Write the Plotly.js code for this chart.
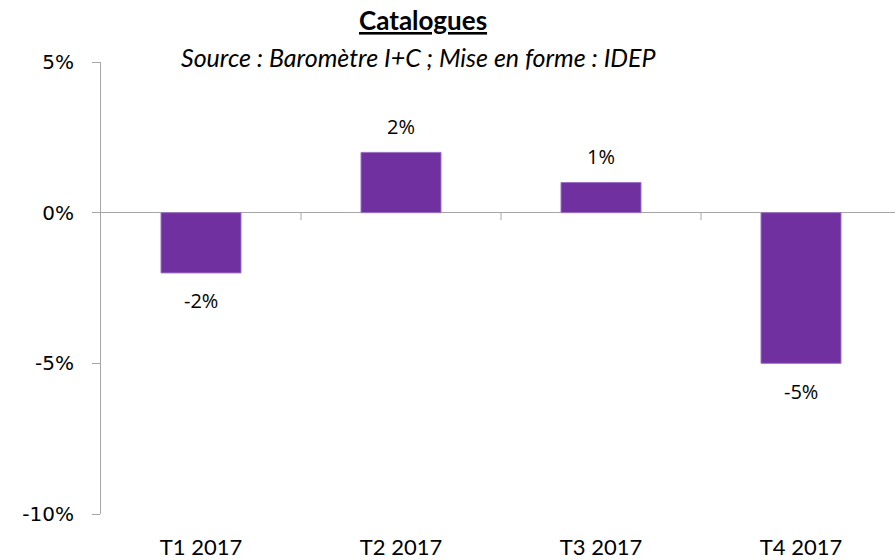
<!DOCTYPE html>
<html>
<head>
<meta charset="utf-8">
<script src="https://cdn.plot.ly/plotly-3.0.1.min.js"></script>
<style>html,body{margin:0;padding:0;background:#fff}#chart{width:895px;height:560px}</style>
</head>
<body>
<div id="chart"></div>
<script>
const categories = ["T1 2017", "T2 2017", "T3 2017", "T4 2017"];
const values = [-2, 2, 1, -5];
const yTickValues = [-10, -5, 0, 5];
const chartTitle = "Catalogues";
const chartSubtitle = "Source : Baromètre I+C ; Mise en forme : IDEP";

const barColor = "#7030A0";
const axisGray = "#A6A6A6";

const trace = {
  type: "bar",
  x: categories,
  y: values,
  width: 0.4,
  marker: { color: barColor, line: { color: "#9A72C4", width: 1 } },
  hoverinfo: "x+y"
};

const labelAnnotations = values.map((v, i) => ({
  x: categories[i], y: v, xref: "x", yref: "y",
  text: v + "%", showarrow: false,
  yanchor: "middle", yshift: v >= 0 ? 26 : -28,
  font: { family: "Open Sans", size: 20, color: "#000" }
}));

const boundaryTicks = categories.slice(0, -1).map((c, i) => ({
  type: "line", xref: "x", yref: "y",
  x0: i + 0.5, x1: i + 0.5, y0: 0, y1: -0.25,
  line: { color: axisGray, width: 1 }
}));

const layout = {
  width: 895, height: 560,
  margin: { l: 101, r: 0, t: 62, b: 46 },
  paper_bgcolor: "#fff", plot_bgcolor: "#fff",
  showlegend: false,
  xaxis: {
    type: "category",
    range: [-0.5, 3.47],
    showline: false, showgrid: false, zeroline: false,
    ticks: "", ticklabelstandoff: 18,
    tickfont: { family: "Lato", size: 22, color: "#000" },
    fixedrange: true
  },
  yaxis: {
    range: [-10, 5],
    tickvals: yTickValues,
    ticktext: yTickValues.map(v => v + "%"),
    showgrid: false,
    showline: true, linecolor: axisGray, linewidth: 1,
    ticks: "outside", ticklen: 8, tickcolor: axisGray, tickwidth: 1,
    ticklabelstandoff: 14,
    zeroline: true, zerolinecolor: axisGray, zerolinewidth: 1.5,
    tickfont: { family: "DejaVu Sans", size: 20, color: "#000" },
    fixedrange: true
  },
  shapes: boundaryTicks,
  annotations: [
    { xref: "paper", yref: "paper", x: 0.405, y: 1, yshift: 42, xanchor: "center", yanchor: "middle",
      text: "<b><u>" + chartTitle + "</u></b>", showarrow: false,
      font: { family: "Lato", size: 26, color: "#000" } },
    { xref: "paper", yref: "paper", x: 0.4, y: 1, yshift: 5, xanchor: "center", yanchor: "middle",
      text: "<i>" + chartSubtitle + "</i>", showarrow: false,
      font: { family: "Lato", size: 25, color: "#000" } }
  ].concat(labelAnnotations)
};

Plotly.newPlot("chart", [trace], layout, { displayModeBar: false, staticPlot: true });
</script>
</body>
</html>
